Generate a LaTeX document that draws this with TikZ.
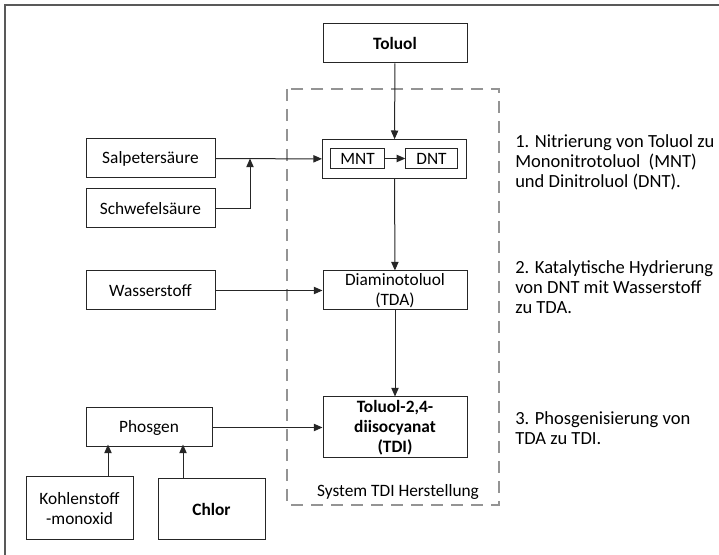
\documentclass[tikz,border=0pt]{standalone}
\usepackage{fontspec}
\setmainfont{Carlito}
\usetikzlibrary{arrows.meta}

\tikzset{
  box/.style={draw=black!85, line width=0.75pt, inner sep=1pt, align=center},
  flow/.style={draw=black!85, line width=0.75pt, -{Triangle[length=6.5pt,width=5.5pt]}},
  note/.style={anchor=west, align=left, inner sep=0pt, font=\fontsize{13.9}{15}\selectfont}
}

\begin{document}
\begin{tikzpicture}[x=0.75pt, y=-0.75pt, font=\fontsize{13}{15}\selectfont]
            \useasboundingbox (0,0) rectangle (719,555);
            % frame and system border
            \draw[black!65, line width=1.2pt] (5,555) -- (5,5) -- (719,5);
            \draw[black!42, line width=2pt, dash pattern=on 9pt off 6pt] (287,89) rectangle (499,505);
            \node[inner sep=0pt] (sys) at (398,492) {System TDI Herstellung};
            % main chain
            \node[box, minimum width=108pt, minimum height=29.25pt, font=\fontsize{13}{15}\selectfont\bfseries] (toluol) at (395,43.5) {Toluol};
            \node[box, minimum width=108pt, minimum height=29pt] (nitro) at (394.5,159) {};
            \node[box, minimum width=40pt, minimum height=15.5pt] (mnt) at (357.5,158.5) {MNT};
            \node[box, minimum width=38.5pt, minimum height=15.5pt] (dnt) at (431.5,158.5) {DNT};
            \node[box, minimum width=108pt, minimum height=29.25pt] (tda) at (395,290.5) {Diaminotoluol\\(TDA)};
            \node[box, minimum width=108pt, minimum height=45.75pt, font=\fontsize{13}{15}\selectfont\bfseries] (tdi) at (395,427.5) {Toluol-2,4-\\diisocyanat\\(TDI)};
            % inputs
            \node[box, minimum width=96.75pt, minimum height=29.25pt] (salpeter) at (150.5,158.5) {Salpetersäure};
            \node[box, minimum width=96.75pt, minimum height=29.25pt] (schwefel) at (150.5,208.5) {Schwefelsäure};
            \node[box, minimum width=96.75pt, minimum height=29.25pt] (wasser) at (150.5,290.5) {Wasserstoff};
            \node[box, minimum width=94.5pt, minimum height=29.25pt] (phosgen) at (149,427.5) {Phosgen};
            \node[box, minimum width=80.25pt, minimum height=47.25pt] (kohlen) at (79.5,508.5) {Kohlenstoff\\-monoxid};
            \node[box, minimum width=80.25pt, minimum height=45.75pt, font=\fontsize{13}{15}\selectfont\bfseries] (chlor) at (211.5,509.5) {Chlor};
            % notes
            \node[note] (n1) at (515,162) {1. Nitrierung von Toluol zu\\Mononitrotoluol~ (MNT)\\und Dinitroluol (DNT).};
            \node[note] (n2) at (515,287) {2. Katalytische Hydrierung\\von DNT mit Wasserstoff\\zu TDA.};
            \node[note] (n3) at (515,428) {3. Phosgenisierung von\\TDA zu TDI.};
            % connectors
            \coordinate (j1) at (250,158.5);
            \coordinate (p1) at (108,444.5);
            \coordinate (p2) at (183,444.5);
            \draw[flow] (toluol) -- (nitro);
            \draw[flow] (salpeter) -- (nitro);
            \draw[flow] (schwefel.east) -| (j1);
            \draw[flow] (mnt) -- (dnt);
            \draw[flow] (nitro) -- (tda);
            \draw[flow] (wasser) -- (tda);
            \draw[flow] (tda) -- (tdi);
            \draw[flow] (phosgen) -- (tdi);
            \draw[flow] (kohlen.north -| p1) -- (p1);
            \draw[flow] (chlor.north -| p2) -- (p2);
         \end{tikzpicture}
\end{document}
